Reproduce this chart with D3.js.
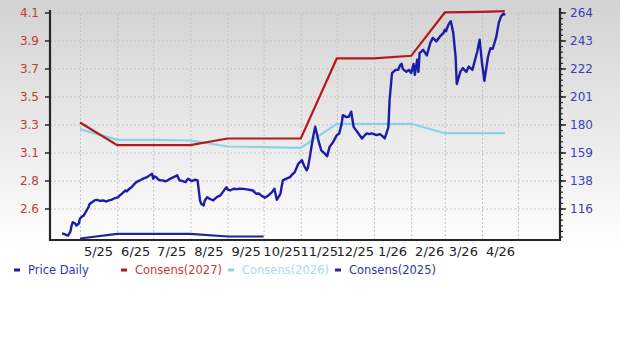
<!DOCTYPE html>
<html><head><meta charset="utf-8">
<script src="https://cdn.jsdelivr.net/npm/d3@7"></script>
<style>body{margin:0;background:#fff}svg{display:block}</style>
</head><body><svg id="c" width="620" height="349"></svg>
<script>
// ---------- data ----------
const priceDates = ["2025-04-16","2025-04-18","2025-04-20","2025-04-21","2025-04-23","2025-04-24","2025-04-25","2025-04-27","2025-04-28","2025-04-30",
"2025-05-01","2025-05-02","2025-05-04","2025-05-05","2025-05-07","2025-05-08","2025-05-09","2025-05-11","2025-05-13","2025-05-15",
"2025-05-18","2025-05-20","2025-05-23","2025-05-25","2025-05-27","2025-05-29","2025-05-31","2025-06-02","2025-06-03","2025-06-05",
"2025-06-06","2025-06-08","2025-06-09","2025-06-10","2025-06-12","2025-06-13","2025-06-15","2025-06-17","2025-06-19","2025-06-21",
"2025-06-23","2025-06-26","2025-06-28","2025-06-30","2025-07-01","2025-07-02","2025-07-04","2025-07-05","2025-07-07","2025-07-09",
"2025-07-11","2025-07-13","2025-07-15","2025-07-18","2025-07-21","2025-07-22","2025-07-23","2025-07-25","2025-07-28","2025-07-30",
"2025-08-02","2025-08-05","2025-08-07","2025-08-08","2025-08-09","2025-08-10","2025-08-12","2025-08-13","2025-08-15","2025-08-16",
"2025-08-17","2025-08-20","2025-08-23","2025-08-26","2025-08-28","2025-08-31","2025-09-01","2025-09-03","2025-09-06","2025-09-09",
"2025-09-11","2025-09-14","2025-09-17","2025-09-20","2025-09-22","2025-09-25","2025-09-27","2025-09-29","2025-10-02","2025-10-05",
"2025-10-08","2025-10-10","2025-10-12","2025-10-15","2025-10-17","2025-10-20","2025-10-23","2025-10-25","2025-10-27","2025-10-30",
"2025-11-02","2025-11-03","2025-11-04","2025-11-06","2025-11-07","2025-11-09","2025-11-11","2025-11-13","2025-11-16","2025-11-18",
"2025-11-21","2025-11-23","2025-11-24","2025-11-25","2025-11-28","2025-12-01","2025-12-03","2025-12-05","2025-12-06","2025-12-09",
"2025-12-11","2025-12-13","2025-12-15","2025-12-17","2025-12-19","2025-12-22","2025-12-24","2025-12-26","2025-12-28","2025-12-30",
"2026-01-01","2026-01-03","2026-01-06","2026-01-08","2026-01-10","2026-01-13","2026-01-14","2026-01-16","2026-01-19","2026-01-21",
"2026-01-23","2026-01-24","2026-01-25","2026-01-28","2026-01-30","2026-02-01","2026-02-03","2026-02-04","2026-02-06","2026-02-07",
"2026-02-08","2026-02-11","2026-02-14","2026-02-17","2026-02-19","2026-02-22","2026-02-25","2026-02-28","2026-03-01","2026-03-02",
"2026-03-04","2026-03-06","2026-03-08","2026-03-10","2026-03-11","2026-03-14","2026-03-16","2026-03-19","2026-03-21","2026-03-24",
"2026-03-28","2026-03-30","2026-04-01","2026-04-03","2026-04-06","2026-04-08","2026-04-10","2026-04-13","2026-04-15","2026-04-17",
"2026-04-19","2026-04-20"];
const priceValues = [97.7,97.1,96.4,96.0,99.0,103.6,106.1,105.1,103.6,105.1,
108.9,109.8,111.1,112.6,115.7,117.4,119.8,121.2,122.5,123.0,
122.1,122.5,121.7,122.5,122.9,123.8,124.4,125.0,126.3,127.6,
128.5,130.1,129.3,130.4,131.9,132.5,134.6,136.3,137.2,138.1,
139.1,140.1,141.4,142.7,138.9,140.6,139.7,138.4,137.6,137.6,
136.9,137.6,138.8,140.1,141.4,139.5,137.6,137.2,136.3,138.9,
137.1,138.1,137.6,130.0,122.5,120.0,118.7,122.5,125.0,124.4,
123.8,122.5,125.0,126.3,128.8,132.5,130.8,130.0,131.3,131.0,
131.3,131.2,130.8,130.4,130.0,127.5,127.7,126.3,124.5,126.3,
128.8,131.3,123.0,127.5,137.6,138.9,140.1,142.2,143.9,150.3,
152.8,150.3,148.2,145.2,147.5,157.8,169.2,178.0,166.6,160.3,
157.8,155.8,159.6,162.9,166.6,171.7,173.0,180.0,186.8,185.3,
185.6,189.4,178.0,175.5,173.0,169.2,171.3,173.0,172.5,173.0,
172.5,171.7,172.5,170.9,169.2,177.8,198.2,218.4,220.9,220.9,
224.7,225.4,221.6,219.4,220.9,218.6,225.4,217.1,228.5,219.4,
233.5,236.0,231.8,241.3,245.0,242.4,246.1,248.8,251.2,250.0,
255.0,257.6,249.0,230.8,210.3,219.6,222.2,219.4,223.4,220.9,
234.5,243.6,226.2,212.6,230.8,237.2,236.8,246.1,256.5,261.4,
263.4,261.9];

const consDates = ["2025-05-01","2025-06-01","2025-07-01","2025-08-01","2025-09-01","2025-10-01","2025-11-01",
"2025-12-01","2026-01-01","2026-02-01","2026-03-01","2026-04-01","2026-04-20"];
const cons2027 = [3.28,3.11,3.11,3.11,3.16,3.16,3.16,3.76,3.76,3.78,4.105,4.11,4.115];
const cons2026 = [3.23,3.15,3.15,3.145,3.10,3.095,3.09,3.27,3.27,3.27,3.20,3.20,3.20];
const cons2025 = [2.41,2.445,2.445,2.445,2.425,2.425];

const xTickLabels = ["5/25","6/25","7/25","8/25","9/25","10/25","11/25","12/25","1/26","2/26","3/26","4/26"];
const leftTickValues = [4.105,3.895,3.685,3.475,3.265,3.055,2.845,2.635];
const rightTickValues = [264.15,243.05,221.95,200.85,179.75,158.65,137.55,116.45];
const legendLabels = ["Price Daily","Consens(2027)","Consens(2026)","Consens(2025)"];
const seriesColors = ["#1c1caa","#b51a1a","#8ad2e4","#24249a"];
const legendTextColors = ["#3434b4","#c43a3a","#a9dcea","#34349c"];

// ---------- layout ----------
const W = 620, H = 349;
const m = {left: 50, right: 560, top: 12, bottom: 240};
const parse = d3.utcParse("%Y-%m-%d");
const svg = d3.select("#c");
const font = "DejaVu Sans, Verdana, sans-serif";

const defs = svg.append("defs");
const g1 = defs.append("linearGradient").attr("id","bg").attr("x1",0).attr("y1",0).attr("x2",0).attr("y2",1);
g1.append("stop").attr("offset","0").attr("stop-color","#d2d2d2");
g1.append("stop").attr("offset","0.72").attr("stop-color","#ffffff");
g1.append("stop").attr("offset","1").attr("stop-color","#ffffff");
svg.append("rect").attr("width",W).attr("height",H).attr("fill","url(#bg)");

const x = d3.scaleUtc().domain([parse("2025-04-06"), parse("2026-06-05")]).range([m.left, m.right]);
const yR = d3.scaleLinear().domain([92.7, 264.5]).range([m.bottom, m.top]);
const yL = d3.scaleLinear()
  .domain([leftTickValues[leftTickValues.length-1], leftTickValues[0]])
  .range([yR(rightTickValues[rightTickValues.length-1]), yR(rightTickValues[0])]);

// grid
const monthStarts = d3.utcMonth.range(parse("2025-05-01"), parse("2026-05-02"));
const gridX = svg.append("g").attr("transform",`translate(0,${m.bottom})`)
  .call(d3.axisBottom(x).tickValues(monthStarts).tickSize(-(m.bottom-m.top)).tickFormat(""));
gridX.select(".domain").remove();
gridX.selectAll("line").attr("stroke","#c4c4c4").attr("stroke-dasharray","2,2").attr("stroke-width",1);

const gridY = svg.append("g").attr("transform",`translate(${m.left},0)`)
  .call(d3.axisLeft(yR).tickValues(rightTickValues).tickSize(-(m.right-m.left)).tickFormat(""));
gridY.select(".domain").remove();
gridY.selectAll("line").attr("stroke","#c4c4c4").attr("stroke-dasharray","2,2").attr("stroke-width",1);

// series
const priceData = priceDates.map((d,i)=>({date: parse(d), value: priceValues[i]}));
const mk = arr => arr.map((v,i)=>({date: parse(consDates[i]), value: v}));
const lineR = d3.line().x(d=>x(d.date)).y(d=>yR(d.value));
const lineL = d3.line().x(d=>x(d.date)).y(d=>yL(d.value));

svg.append("path").datum(mk(cons2026)).attr("d",lineL).attr("fill","none")
  .attr("stroke",seriesColors[2]).attr("stroke-width",2.2);
svg.append("path").datum(mk(cons2025)).attr("d",lineL).attr("fill","none")
  .attr("stroke",seriesColors[3]).attr("stroke-width",2.2);
svg.append("path").datum(mk(cons2027)).attr("d",lineL).attr("fill","none")
  .attr("stroke",seriesColors[1]).attr("stroke-width",2.2);
svg.append("path").datum(priceData).attr("d",lineR).attr("fill","none")
  .attr("stroke",seriesColors[0]).attr("stroke-width",2.4).attr("stroke-linejoin","round");

// frame
const frame = svg.append("g").attr("stroke","#262626").attr("stroke-width",2.2);
frame.append("line").attr("x1",m.left).attr("x2",m.left).attr("y1",m.top-2).attr("y2",m.bottom+1);
frame.append("line").attr("x1",m.left-1).attr("x2",m.right+1).attr("y1",m.bottom).attr("y2",m.bottom);
frame.append("line").attr("x1",m.right).attr("x2",m.right).attr("y1",m.top-4).attr("y2",m.bottom+1);

// left axis
const axL = svg.append("g").attr("transform",`translate(${m.left},0)`)
  .call(d3.axisLeft(yL).tickValues(leftTickValues).tickFormat(d3.format(".1f")).tickSize(5).tickPadding(6));
axL.select(".domain").remove();
axL.selectAll("line").attr("stroke","#262626").attr("stroke-width",1.5);
axL.selectAll("text").attr("fill","#c43a3a").style("font-family",font).style("font-size","12px");

// right axis
const step = (rightTickValues[0]-rightTickValues[1])/5;
const minorTicks = d3.range(rightTickValues[0], yR.domain()[0], -step);
const axRm = svg.append("g").attr("transform",`translate(${m.right},0)`)
  .call(d3.axisRight(yR).tickValues(minorTicks).tickSize(3).tickFormat(""));
axRm.select(".domain").remove();
axRm.selectAll("line").attr("stroke","#262626").attr("stroke-width",1.2);
const axR = svg.append("g").attr("transform",`translate(${m.right},0)`)
  .call(d3.axisRight(yR).tickValues(rightTickValues).tickFormat(d3.format(".0f")).tickSize(6).tickPadding(4));
axR.select(".domain").remove();
axR.selectAll("line").attr("stroke","#262626").attr("stroke-width",1.5);
axR.selectAll("text").attr("fill","#3d3db8").style("font-family",font).style("font-size","12px");

// x labels (mid-month)
const midMonths = d3.utcMonth.range(parse("2025-05-01"), parse("2026-05-01")).map(d=>d3.utcDay.offset(d,15));
const axX = svg.append("g").attr("transform",`translate(0,${m.bottom})`)
  .call(d3.axisBottom(x).tickValues(midMonths).tickSize(0).tickPadding(7)
    .tickFormat((d,i)=>xTickLabels[i]));
axX.select(".domain").remove();
axX.selectAll("text").attr("fill","#222").style("font-family",font).style("font-size","13px");

// legend
const leg = svg.append("g").attr("transform","translate(14,270)");
legendLabels.forEach((lab,i)=>{
  const gx = i*107;
  leg.append("rect").attr("x",gx).attr("y",-1.5).attr("width",6).attr("height",3).attr("fill",seriesColors[i]);
  leg.append("text").attr("x",gx+14).attr("y",0).attr("dy","0.35em").text(lab)
    .attr("fill",legendTextColors[i]).style("font-family",font).style("font-size","11.5px");
});
</script></body></html>
